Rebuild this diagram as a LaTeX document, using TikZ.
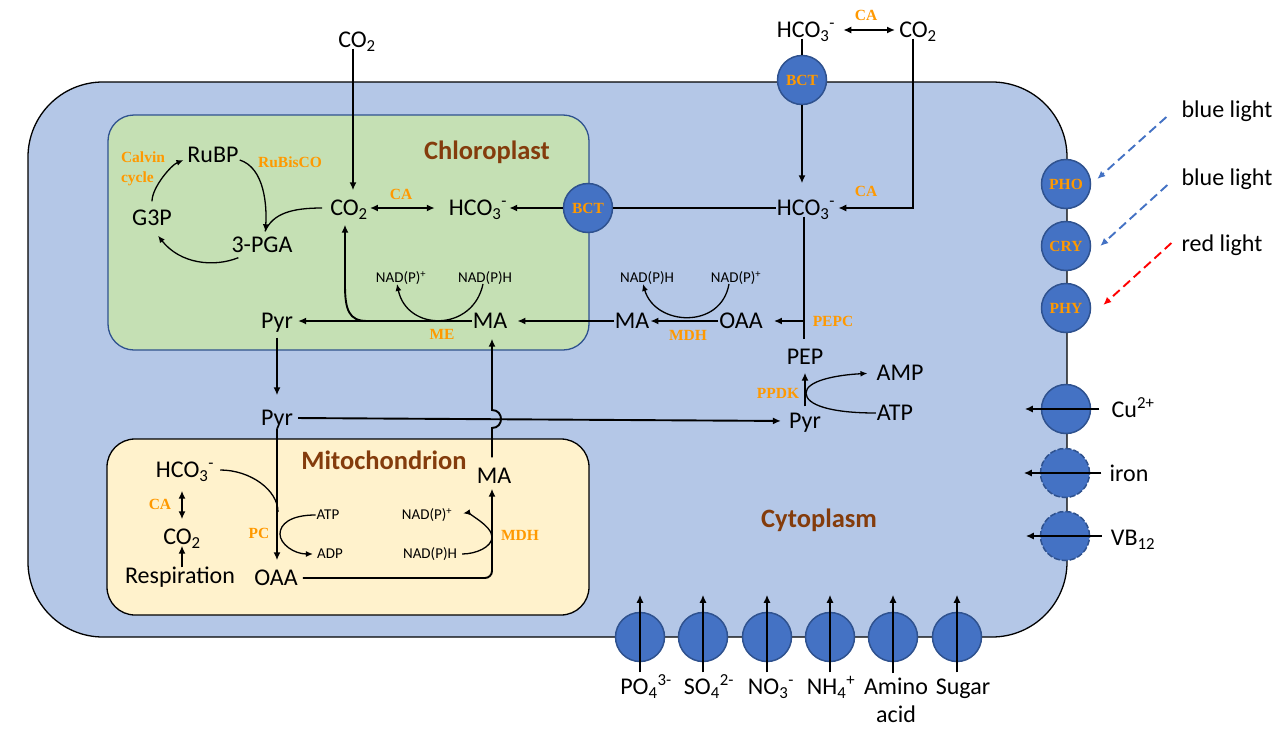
\documentclass[tikz,border=0pt]{standalone}
\usepackage{fontspec}
\setmainfont{Carlito}
\newfontfamily\tnr{Liberation Serif}
\usetikzlibrary{arrows.meta}
\definecolor{cellblue}{HTML}{B4C7E7}
\definecolor{chlgreen}{HTML}{C5E0B4}
\definecolor{mitoyel}{HTML}{FFF2CC}
\definecolor{protfill}{HTML}{4472C4}
\definecolor{protdraw}{HTML}{2F528F}
\definecolor{enz}{HTML}{FF9900}
\definecolor{brownlbl}{HTML}{843C0C}
\definecolor{bluelight}{HTML}{4472C4}
\definecolor{redlight}{HTML}{FF0000}
\newcommand{\mysub}[1]{\textsubscript{#1}}
\newcommand{\mysup}[1]{\textsuperscript{#1}}
\begin{document}
\begin{tikzpicture}[x=1pt,y=-1pt,
  t24/.style={font=\fontsize{24}{28}\selectfont, inner sep=1pt},
  mol/.style={t24, text height=15pt, text depth=0pt},
  sm/.style={font=\fontsize{15}{17}\selectfont, inner sep=1pt, text height=9.5pt, text depth=0pt},
  enzf/.style={font=\tnr\bfseries\fontsize{15.5}{20}\selectfont, text=enz, inner sep=0pt},
  enzyme/.style={enzf, text height=10pt, text depth=0pt},
  ttl/.style={font=\bfseries\fontsize{26.5}{30}\selectfont, text=brownlbl, inner sep=0pt, text height=17pt, text depth=0pt},
  prot/.style={circle, fill=protfill, draw=protdraw, line width=1.5pt, minimum size=49pt, inner sep=0pt, font=\tnr\bfseries\fontsize{15.5}{17}\selectfont, text=enz},
  protd/.style={prot, dash pattern=on 6pt off 2pt},
  ln/.style={line width=1.9pt},
  arr/.style={ln, -{Latex[length=8pt,width=7pt]}},
  darr/.style={ln, {Latex[length=8pt,width=7pt]}-{Latex[length=8pt,width=7pt]}},
  curv/.style={line width=1.3pt},
  carr/.style={curv, -{Latex[length=7pt,width=6pt]}},
  lightarr/.style={line width=1.9pt, dash pattern=on 9pt off 5pt, -{Latex[length=8pt,width=7pt]}},
]
\fill[white] (0,0) rectangle (1288,731);
\useasboundingbox (0,0) rectangle (1288,731);
% compartments
\draw[fill=cellblue, line width=1.3pt, rounded corners=75pt] (28,82) rectangle (1067,637);
\draw[fill=chlgreen, draw=protdraw, line width=1.3pt, rounded corners=26pt] (108,115) rectangle (589,350);
\draw[fill=mitoyel, draw=black, line width=1.3pt, rounded corners=28pt] (107,439) rectangle (589,615);
% titles
\node[ttl] (chltitle) at (487,151) {Chloroplast};
\node[ttl] (mittitle) at (384,461) {Mitochondrion};
\node[ttl] (cyttitle) at (819,519) {Cytoplasm};
% transporters
\node[prot] (bcttop) at (802,80) {BCT};
\node[prot] (bctchl) at (588,208) {BCT};
\node[prot] (pho) at (1066,184) {PHO};
\node[prot] (cry) at (1066,246) {CRY};
\node[prot] (phy) at (1066,308) {PHY};
\node[prot] (cuprot) at (1066,409) {};
\node[protd] (feprot) at (1065,473) {};
\node[protd] (vbprot) at (1065,536) {};
\node[prot] (p1) at (640,637) {};
\node[prot] (p2) at (703,637) {};
\node[prot] (p3) at (767,637) {};
\node[prot] (p4) at (830,637) {};
\node[prot] (p5) at (893,637) {};
\node[prot] (p6) at (957,637) {};
% molecules
\node[mol] (co2top) at (357,40) {CO\mysub{2}};
\node[mol] (hco3o) at (806,30) {HCO\mysub{3}\mysup{-}};
\node[mol] (co2o) at (918,30) {CO\mysub{2}};
\node[mol] (hco3y) at (806,208) {HCO\mysub{3}\mysup{-}};
\node[mol] (co2c) at (349,208) {CO\mysub{2}};
\node[mol] (hco3c) at (478,208) {HCO\mysub{3}\mysup{-}};
\node[mol] (rubp) at (213,155) {RuBP};
\node[mol] (g3p) at (152,218) {G3P};
\node[mol] (pga) at (262,245) {3-PGA};
\node[sm] (nadp2) at (401,278) {NAD(P)\mysup{+}};
\node[sm] (nadh2) at (485,278) {NAD(P)H};
\node[mol] (mac) at (490,321) {MA};
\node[mol] (pyrc) at (277,321) {Pyr};
\node[sm] (nadh1) at (647,278) {NAD(P)H};
\node[sm] (nadp1) at (736,278) {NAD(P)\mysup{+}};
\node[mol] (may) at (632,321) {MA};
\node[mol] (oaay) at (741,321) {OAA};
\node[mol] (pep) at (805,357) {PEP};
\node[mol] (amp) at (900,373) {AMP};
\node[mol] (atp1) at (895,413) {ATP};
\node[mol] (pyrr) at (805,421) {Pyr};
\node[mol] (pyry) at (277,418) {Pyr};
\node[mol] (hco3m) at (185,470) {HCO\mysub{3}\mysup{-}};
\node[mol] (co2m) at (182,537) {CO\mysub{2}};
\node[mol] (resp) at (180,576) {Respiration};
\node[mol] (oaam) at (276,578) {OAA};
\node[sm] (atpm) at (328,515) {ATP};
\node[sm] (adpm) at (330,554) {ADP};
\node[sm] (nadpm) at (427,515) {NAD(P)\mysup{+}};
\node[sm] (nadhm) at (430,554) {NAD(P)H};
\node[mol] (mam) at (494,476) {MA};
% outside labels
\node[mol] (bl1) at (1227,110) {blue light};
\node[mol] (bl2) at (1227,178) {blue light};
\node[mol] (rl) at (1222,244) {red light};
\node[mol] (cu) at (1133,410) {Cu\mysup{2+}};
\node[mol] (iron) at (1129,474) {iron};
\node[mol] (vb) at (1133,538) {VB\mysub{12}};
\node[mol] (po4) at (646,687) {PO\mysub{4}\mysup{3-}};
\node[mol] (so4) at (709,687) {SO\mysub{4}\mysup{2-}};
\node[mol] (no3) at (771,687) {NO\mysub{3}\mysup{-}};
\node[mol] (nh4) at (831,687) {NH\mysub{4}\mysup{+}};
\node[t24, align=center, anchor=north] (amino) at (896,677) {Amino\\acid};
\node[mol] (sugar) at (963,687) {Sugar};
% enzymes
\node[enzyme] (ca1) at (401,194) {CA};
\node[enzf, align=left] (calvin) at (143,169) {Calvin\\cycle};
\node[enzyme] (rubisco) at (290,162) {RuBisCO};
\node[enzyme] (ca2) at (866,15) {CA};
\node[enzyme] (ca3) at (866,191) {CA};
\node[enzyme] (pepc) at (833,321) {PEPC};
\node[enzyme] (mdh1) at (688,335) {MDH};
\node[enzyme] (me) at (442,334) {ME};
\node[enzyme] (ppdk) at (778,393) {PPDK};
\node[enzyme] (ca4) at (160,504) {CA};
\node[enzyme] (pc) at (259,533) {PC};
\node[enzyme] (mdh2) at (520,535) {MDH};
% ---- connectors ----
\coordinate (c1) at ([xshift=-4pt]co2top.south);
\draw[arr, shorten >=9pt] (c1) -- (c1 |- co2c.north);
\draw[darr, shorten <=1pt, shorten >=13pt] (co2c.east) -- (hco3c.west);
\draw[ln] (hco3y.west) -- (bctchl.east);
\draw[arr, shorten >=1pt] (bctchl.west) -- (hco3c.east);
\draw[darr, shorten <=7pt, shorten >=3pt] (hco3o.east) -- (co2o.west);
\draw[ln] (bcttop.north |- hco3o.south) -- (bcttop.north);
\draw[arr, shorten >=16pt] (bcttop.south) -- (bcttop.south |- hco3y.north);
\coordinate (c2) at ([xshift=-5pt]co2o.south);
\draw[arr, shorten >=2pt] (c2) |- (hco3y.east);
% PEPC / MDH
\coordinate (pepcend) at (804,339);
\coordinate (pepcj) at (804,321);
\draw[ln] (pepcend |- hco3y.south) -- (pepcend);
\draw[arr, shorten >=10pt] (pepcj) -- (oaay.east);
\draw[arr] (oaay.west) -- (may.east);
\draw[carr] ([xshift=-7pt]nadp1.south) .. controls +(-8,46) and +(12,42) .. ([xshift=-4pt]nadh1.south);
\draw[arr, shorten >=9pt] (may.west) -- (mac.east);
% ME
\draw[arr, shorten >=4pt] (mac.west) -- (pyrc.east);
\coordinate (mej) at (367,321);
\coordinate (mecv) at (345,285);
\draw[arr, shorten >=8pt] (mej) .. controls +(-18,0) and +(0,25) .. (mecv) -- (mecv |- co2c.south);
\draw[carr] ([xshift=-2pt]nadh2.south) .. controls +(-10,48) and +(10,48) .. ([xshift=-4pt]nadp2.south);
% Calvin cycle
\draw[carr, shorten <=8pt, shorten >=3pt] (g3p.north) .. controls +(0,-22) and +(-15,6) .. ([yshift=-4pt]rubp.west);
\draw[carr, shorten >=5pt] ([yshift=-5pt]rubp.east) .. controls +(25,8) and +(2,-30) .. ([xshift=3pt]pga.north);
\draw[carr] ([xshift=8pt,yshift=-4pt]pga.south west) .. controls +(-25,10) and +(22,28) .. ([xshift=6pt,yshift=-9pt]g3p.south);
\draw[curv] ([xshift=-7pt]co2c.west) .. controls +(-30,0) and +(8,-18) .. ([xshift=3pt,yshift=5pt]pga.north);
% Pyr
\draw[arr, shorten <=8pt, shorten >=14pt] (pyrc.south) -- (pyry.north);
\draw[arr, shorten <=4pt, shorten >=7pt] (pyry.east) -- (pyrr.west);
\draw[arr, shorten <=6pt, shorten >=7pt] (pyrr.north) -- (pep.south);
\coordinate (ppdkj) at (806,393);
\draw[carr, shorten >=8pt] (atp1.west) .. controls +(-45,0) and +(0,12) .. (ppdkj) .. controls +(0,-12) and +(-40,2) .. (amp.west);
% mitochondrion
\draw[arr, shorten <=2pt, shorten >=9pt] (pyry.south) -- (pyry.south |- oaam.north);
\coordinate (pcj1) at (278,512);
\draw[curv, shorten <=5pt] (hco3m.east) .. controls +(35,0) and +(0,-22) .. (pcj1);
\coordinate (pcj2) at (280,534);
\draw[carr, shorten >=3pt] (atpm.west) .. controls +(-25,0) and +(0,-10) .. (pcj2) .. controls +(0,10) and +(-22,0) .. (adpm.west);
\draw[darr, shorten <=12pt, shorten >=9pt] (co2m.north |- hco3m.south) -- (co2m.north);
\draw[arr] (co2m.south |- resp.north) -- (co2m.south);
\draw[arr, rounded corners=7pt, shorten <=4pt, shorten >=4pt] (oaam.east) -| ([xshift=-2pt]mam.south);
\coordinate (mdhj) at (492,537);
\draw[carr, shorten <=4pt, shorten >=10pt] (nadhm.east) .. controls +(18,0) and +(0,10) .. (mdhj) .. controls +(0,-12) and +(12,-2) .. (nadpm.east);
\coordinate (hopA) at (492,428);
\coordinate (hopB) at (492,410);
\draw[arr, shorten <=10pt, shorten >=9pt] (hopA |- mam.north) -- (hopA) .. controls +(12,0) and +(12,0) .. (hopB) -- (hopB |- mac.south);
% lights
\draw[lightarr, draw=bluelight] ([shift={(-14,7)}]bl1.west) -- ([shift={(6,-5)}]pho.east);
\draw[lightarr, draw=bluelight] ([shift={(-13,7)}]bl2.west) -- ([shift={(9,0)}]cry.east);
\draw[lightarr, draw=redlight] ([shift={(-9,-1)}]rl.west) -- ([shift={(12,-3)}]phy.east);
% metals
\draw[arr, shorten <=11pt] (cu.west |- cuprot) -- ([xshift=-16pt]cuprot.west);
\draw[arr, shorten <=7pt] (iron.west |- feprot) -- ([xshift=-16pt]feprot.west);
\draw[arr, shorten <=8pt] (vb.west |- vbprot) -- ([xshift=-14pt]vbprot.west);
% nutrients
\draw[arr, shorten <=6pt] (p1 |- po4.north) -- ([yshift=17pt]p1.north);
\draw[arr, shorten <=6pt] (p2 |- so4.north) -- ([yshift=17pt]p2.north);
\draw[arr, shorten <=6pt] (p3 |- no3.north) -- ([yshift=17pt]p3.north);
\draw[arr, shorten <=6pt] (p4 |- nh4.north) -- ([yshift=17pt]p4.north);
\draw[arr, shorten <=4pt] (p5 |- amino.north) -- ([yshift=17pt]p5.north);
\draw[arr, shorten <=6pt] (p6 |- sugar.north) -- ([yshift=17pt]p6.north);
\end{tikzpicture}
\end{document}
